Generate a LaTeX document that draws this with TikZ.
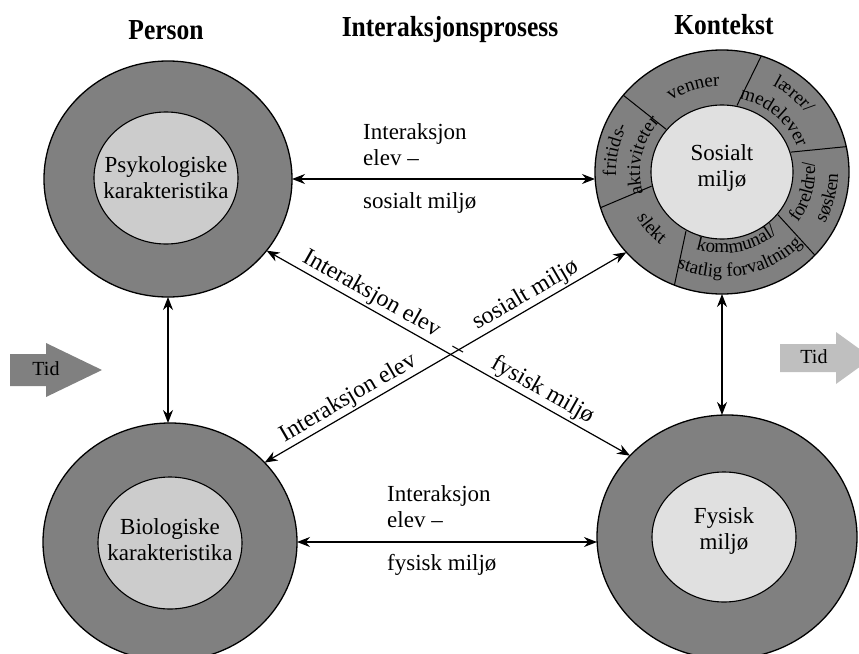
\documentclass[tikz,border=0pt]{standalone}
\usepackage{fontspec}
\setmainfont{Liberation Serif}
\newfontfamily\headfont[FakeStretch=0.88]{Liberation Serif}
\usetikzlibrary{shapes.geometric,arrows.meta,decorations.text,calc}

\definecolor{ringgray}{gray}{0.5}
\definecolor{kjernegray}{gray}{0.8}
\definecolor{kjernelys}{gray}{0.88}
\definecolor{tidgray}{gray}{0.5}
\definecolor{tidlys}{gray}{0.75}

\newcommand{\ringfont}{\fontsize{19}{21}\selectfont}

\tikzset{
	ring/.style={shape=ellipse,draw,line width=1.3pt,fill=ringgray,inner sep=0pt,outer sep=0pt},
	kjerne/.style={shape=ellipse,draw,line width=1.1pt,fill=kjernegray,inner sep=0pt,outer sep=0pt},
	tekst/.style={font=\fontsize{23}{26}\selectfont,align=center,inner sep=0pt},
	lbl/.style={font=\fontsize{23}{26}\selectfont,inner sep=0pt},
	diag/.style={font=\fontsize{24}{26}\selectfont,inner sep=2pt},
	tittel/.style={font=\headfont\bfseries\fontsize{29}{32}\selectfont,inner sep=0pt},
	pil/.style={{Stealth[length=13pt,width=10pt]}-{Stealth[length=13pt,width=10pt]},line width=1.2pt},
	skille/.style={line width=1pt}
}

\begin{document}
\begin{tikzpicture}[x=1pt,y=1pt]
	\useasboundingbox (0,0) rectangle (859,-653);
	\clip (0,0) rectangle (859,-653);

	% overskrifter
	\node[tittel] (person) at (166,-30) {Person};
	\node[tittel] (prosess) at (450,-30) {Interaksjonsprosess};
	\node[tittel] (kontekst) at (724,-25) {Kontekst};

	% tid
	\fill[tidgray] (10,-354) -- (46,-354) -- (46,-343) -- (102,-370) -- (46,-397)
		-- (46,-386) -- (10,-386) -- cycle;
	\node[lbl,font=\fontsize{20}{22}\selectfont] (tidv) at (46,-369) {Tid};
	\fill[tidlys] (780,-344) -- (836,-344) -- (836,-332) -- (872,-358) -- (836,-384)
		-- (836,-372) -- (780,-372) -- cycle;
	\node[lbl,font=\fontsize{20}{22}\selectfont] (tidh) at (814,-357) {Tid};

	% person
	\node[ring,minimum width=248pt,minimum height=236pt] (psyk) at (168,-179) {};
	\node[kjerne,minimum width=144pt,minimum height=132pt] (psykkjerne) at (166,-178) {};
	\node[tekst] (psyktekst) at (166,-178) {Psykologiske\\karakteristika};

	\node[ring,minimum width=254pt,minimum height=238pt] (bio) at (170,-542) {};
	\node[kjerne,minimum width=144pt,minimum height=132pt] (biokjerne) at (170,-543) {};
	\node[tekst] (biotekst) at (170,-540) {Biologiske\\karakteristika};

	% kontekst
	\node[ring,minimum width=254pt,minimum height=244pt] (sosial) at (722,-172) {};
	\foreach \a/\b in {141/141,78/72,17/12,-39/-43,-120/-112,-168/-163}
		\draw[skille] ([shift={(\a:72pt and 68pt)}]sosial.center)
			-- ([shift={(\b:127pt and 122pt)}]sosial.center);
	\node[kjerne,fill=kjernelys,minimum width=142pt,minimum height=134pt] (sosialkjerne) at (722,-172) {};
	\node[tekst] (sosialtekst) at (722,-168) {Sosialt\\miljø};

	\path[decorate,decoration={text along path,text align=center,text={|\ringfont|venner}}]
		([shift={(141:91pt and 86pt)}]sosial.center) arc[start angle=141,end angle=75,x radius=91pt,y radius=86pt];
	\path[decorate,decoration={text along path,text align=center,text={|\ringfont|lærer/}}]
		([shift={(88:104pt and 99pt)}]sosial.center) arc[start angle=88,end angle=8,x radius=104pt,y radius=99pt];
	\path[decorate,decoration={text along path,text align=center,text={|\ringfont|medelever}}]
		([shift={(88:80pt and 75pt)}]sosial.center) arc[start angle=88,end angle=8,x radius=80pt,y radius=75pt];
	\path[decorate,decoration={text along path,text align=center,text={|\ringfont|fritids-}}]
		([shift={(205:106pt and 101pt)}]sosial.center) arc[start angle=205,end angle=131,x radius=106pt,y radius=101pt];
	\path[decorate,decoration={text along path,text align=center,text={|\ringfont|aktiviteter}}]
		([shift={(205:82pt and 77pt)}]sosial.center) arc[start angle=205,end angle=131,x radius=82pt,y radius=77pt];
	\path[decorate,decoration={text along path,text align=center,text={|\ringfont|foreldre/}}]
		([shift={(-50:93pt and 88pt)}]sosial.center) arc[start angle=-50,end angle=22,x radius=93pt,y radius=88pt];
	\path[decorate,decoration={text along path,text align=center,text={|\ringfont|søsken}}]
		([shift={(-50:116pt and 111pt)}]sosial.center) arc[start angle=-50,end angle=22,x radius=116pt,y radius=111pt];
	\path[decorate,decoration={text along path,text align=center,text={|\ringfont|kommunal/}}]
		([shift={(-125:86pt and 81pt)}]sosial.center) arc[start angle=-125,end angle=-32,x radius=86pt,y radius=81pt];
	\path[decorate,decoration={text along path,text align=center,text={|\ringfont|statlig forvaltning}}]
		([shift={(-125:110pt and 105pt)}]sosial.center) arc[start angle=-125,end angle=-32,x radius=110pt,y radius=105pt];
	\path[decorate,decoration={text along path,text align=center,text={|\ringfont|slekt}}]
		([shift={(-170:98pt and 93pt)}]sosial.center) arc[start angle=-170,end angle=-110,x radius=98pt,y radius=93pt];

	\node[ring,minimum width=260pt,minimum height=244pt] (fysisk) at (727,-537) {};
	\node[kjerne,fill=kjernelys,minimum width=144pt,minimum height=130pt] (fysiskkjerne) at (724,-537) {};
	\node[tekst] (fysisktekst) at (724,-531) {Fysisk\\miljø};

	% piler
	\draw[pil] (psyk.east) -- (psyk.east -| sosial.west);
	\draw[pil] (bio.east) -- (bio.east -| fysisk.west);
	\draw[pil] (psyk.south) -- (psyk.south |- bio.north);
	\draw[pil] (sosial.south) -- (sosial.south |- fysisk.north);
	\draw[pil] (psyk.-36) -- (fysisk.140)
		node[diag,pos=0.27,above,sloped] (d1a) {Interaksjon elev}
		node[diag,pos=0.515,above,sloped] (strek) {–}
		node[diag,pos=0.74,above,sloped] (d1b) {fysisk miljø};
	\draw[pil] (bio.40) -- (sosial.220)
		node[diag,pos=0.25,above,sloped] (d2a) {Interaksjon elev}
		node[diag,pos=0.74,above,sloped] (d2b) {sosialt miljø};

	% tekst ved pilene
	\node[lbl,anchor=base west] (itopp) at (363,-139) {Interaksjon};
	\node[lbl,anchor=base west] (etopp) at (363,-165) {elev –};
	\node[lbl,anchor=base west] (stopp) at (363,-208) {sosialt miljø};
	\node[lbl,anchor=base west] (ibunn) at (387,-501) {Interaksjon};
	\node[lbl,anchor=base west] (ebunn) at (387,-527) {elev –};
	\node[lbl,anchor=base west] (fbunn) at (387,-570) {fysisk miljø};
\end{tikzpicture}
\end{document}
